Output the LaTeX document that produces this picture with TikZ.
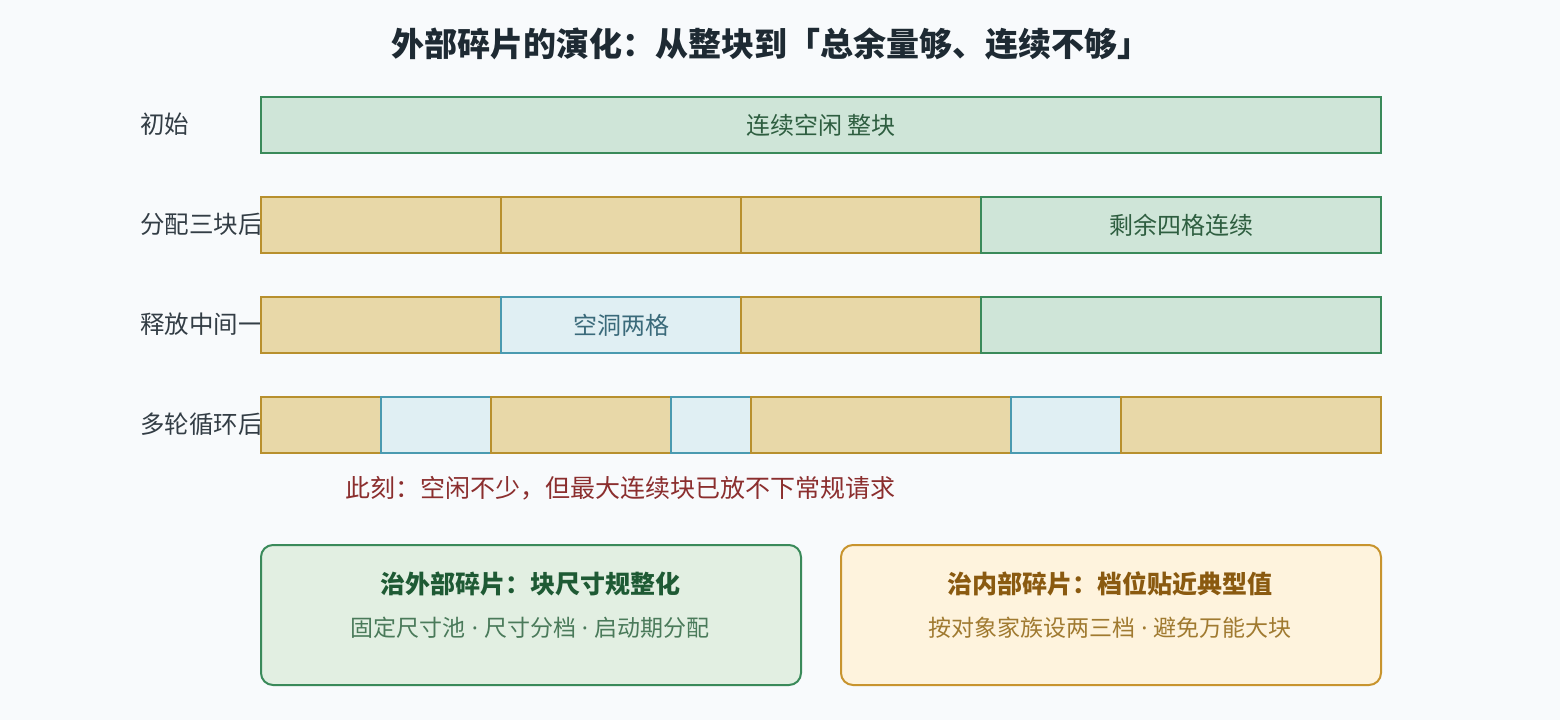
\documentclass[tikz,border=0pt]{standalone}
\usepackage{fontspec}
\setmainfont{Noto Sans CJK SC}
\newfontfamily\latinfont{Noto Sans}
\usetikzlibrary{positioning}
\definecolor{bg}{HTML}{F8FAFC}
\definecolor{gfill}{HTML}{CFE5D8}
\definecolor{gline}{HTML}{3A8A5A}
\definecolor{gtext}{HTML}{2E5E40}
\definecolor{yfill}{HTML}{E8D8A8}
\definecolor{yline}{HTML}{B8902E}
\definecolor{bfill}{HTML}{E0EFF3}
\definecolor{bline}{HTML}{4A9AB0}
\definecolor{btext}{HTML}{3A6A7A}
\definecolor{lab}{HTML}{333D45}
\definecolor{title}{HTML}{1E2A33}
\definecolor{warn}{HTML}{8B2E2E}
\definecolor{lgfill}{HTML}{E2EFE2}
\definecolor{lgtitle}{HTML}{1E5A34}
\definecolor{lgsub}{HTML}{4A7A5A}
\definecolor{ofill}{HTML}{FEF3DD}
\definecolor{oline}{HTML}{C8942E}
\definecolor{otitle}{HTML}{8A5A10}
\definecolor{osub}{HTML}{A07A30}
\newcommand{\sdot}{{\latinfont\ ·\ }}
\tikzset{
  seg/.style={draw, line width=2pt, inner sep=0pt, anchor=north west, minimum height=56pt, font=\fontsize{24}{28}\selectfont},
  free/.style={seg, fill=gfill, draw=gline, text=gtext},
  used/.style={seg, fill=yfill, draw=yline},
  hole/.style={seg, fill=bfill, draw=bline, text=btext},
  rowlab/.style={anchor=west, inner sep=0pt, text=lab, font=\fontsize{24.5}{28}\selectfont},
  card/.style={draw, line width=2pt, rounded corners=12pt, anchor=north west, minimum width=540pt, minimum height=140pt, inner sep=0pt},
  cardtitle/.style={inner sep=0pt, font=\bfseries\fontsize{25}{28}\selectfont},
  cardsub/.style={inner sep=0pt, font=\fontsize{23}{28}\selectfont},
}
\newcommand{\segbox}[6]{\node[#2, minimum width={#4-#3}] (#1) at (#3,#5) {#6};}
\begin{document}
\begin{tikzpicture}[x=1pt,y=-1pt]
\fill[bg] (0,0) rectangle (1560,720);
\useasboundingbox (0,0) rectangle (1560,720);
\node[text=title, font=\bfseries\fontsize{33}{36}\selectfont, inner sep=0pt] (ttl) at (771,44) {外部碎片的演化：从整块到「总余量够、连续不够」};
% row 1
\node[rowlab] (l1) at (140,124) {初始};
\segbox{a1}{free}{260}{1380}{96}{连续空闲 整块}
% row 2
\node[rowlab] (l2) at (140,224) {分配三块后};
\segbox{b1}{used}{260}{500}{196}{}
\segbox{b2}{used}{500}{740}{196}{}
\segbox{b3}{used}{740}{980}{196}{}
\segbox{b4}{free}{980}{1380}{196}{剩余四格连续}
% row 3
\node[rowlab] (l3) at (140,324) {释放中间一};
\segbox{c1}{used}{260}{500}{296}{}
\segbox{c2}{hole}{500}{740}{296}{空洞两格}
\segbox{c3}{used}{740}{980}{296}{}
\segbox{c4}{free}{980}{1380}{296}{}
% row 4
\node[rowlab] (l4) at (140,424) {多轮循环后};
\segbox{d1}{used}{260}{380}{396}{}
\segbox{d2}{hole}{380}{490}{396}{}
\segbox{d3}{used}{490}{670}{396}{}
\segbox{d4}{hole}{670}{750}{396}{}
\segbox{d5}{used}{750}{1010}{396}{}
\segbox{d6}{hole}{1010}{1120}{396}{}
\segbox{d7}{used}{1120}{1380}{396}{}
\node[anchor=west, inner sep=0pt, text=warn, font=\fontsize{25}{28}\selectfont] (note) at (345,488) {此刻：空闲不少，但最大连续块已放不下常规请求};
% cards
\node[card, fill=lgfill, draw=gline] (k1) at (260,544) {};
\node[cardtitle, text=lgtitle] (k1t) at (530,584) {治外部碎片：块尺寸规整化};
\node[cardsub, text=lgsub] (k1s) at (530,628) {固定尺寸池\sdot 尺寸分档\sdot 启动期分配};
\node[card, fill=ofill, draw=oline] (k2) at (840,544) {};
\node[cardtitle, text=otitle] (k2t) at (1110,584) {治内部碎片：档位贴近典型值};
\node[cardsub, text=osub] (k2s) at (1110,628) {按对象家族设两三档\sdot 避免万能大块};
\end{tikzpicture}
\end{document}
